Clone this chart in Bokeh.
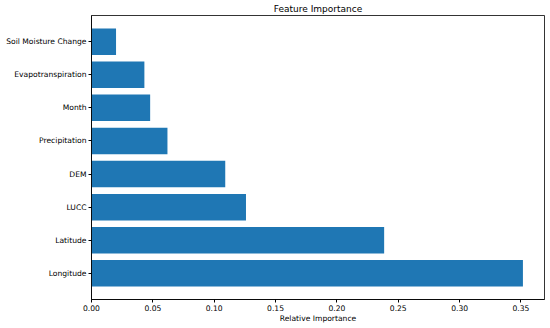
from bokeh.plotting import figure
from bokeh.models import FactorRange, Range1d, FixedTicker, ColumnDataSource, PrintfTickFormatter
from bokeh.embed import file_html
from bokeh.resources import INLINE

features = ["Longitude", "Latitude", "LUCC", "DEM", "Precipitation", "Month",
            "Evapotranspiration", "Soil Moisture Change"]
importance = [0.3516, 0.2385, 0.1259, 0.1090, 0.0619, 0.0478, 0.0431, 0.0200]
x_ticks = [0.0, 0.05, 0.10, 0.15, 0.20, 0.25, 0.30, 0.35]

FONT = "DejaVu Sans"

src = ColumnDataSource(dict(feature=features, value=importance))

p = figure(width=550, height=328, output_backend="svg", toolbar_location=None,
           y_range=FactorRange(*features, range_padding=0.29, range_padding_units="absolute"),
           x_range=Range1d(0, max(importance) * 1.05),
           title="Feature Importance",
           min_border_left=91, min_border_right=6, min_border_bottom=29, min_border_top=0)

p.hbar(y="feature", right="value", left=0, height=0.8, source=src,
       fill_color="#1f77b4", line_color=None)

p.title.align = "center"
p.title.text_font = FONT
p.title.text_font_size = "9px"
p.title.text_font_style = "normal"
p.title.text_color = "#000000"
p.title.standoff = 3
p.title.offset = 0

p.xgrid.visible = False
p.ygrid.visible = False
p.outline_line_color = "#000000"
p.outline_line_width = 0.8
p.outline_line_alpha = 1.0
p.background_fill_color = "white"
p.border_fill_color = "white"

p.xaxis.ticker = FixedTicker(ticks=x_ticks)
p.xaxis.formatter = PrintfTickFormatter(format="%.2f")
p.xaxis.axis_label = "Relative Importance"
p.xaxis.axis_label_text_font = FONT
p.xaxis.axis_label_text_font_size = "7.6px"
p.xaxis.axis_label_text_font_style = "normal"
p.xaxis.axis_label_text_color = "#000000"
p.xaxis.axis_label_standoff = 0

for ax in (p.xaxis, p.yaxis):
    ax.major_label_text_font = FONT
    ax.major_label_text_font_size = "7.6px"
    ax.major_label_text_color = "#000000"
    ax.major_tick_out = 3
    ax.major_tick_in = 0
    ax.minor_tick_out = 0
    ax.minor_tick_in = 0
    ax.major_tick_line_color = "#000000"
    ax.axis_line_color = "#000000"
    ax.axis_line_width = 0.8
    ax.major_label_standoff = 2

open("out.html", "w").write(file_html(p, INLINE))
